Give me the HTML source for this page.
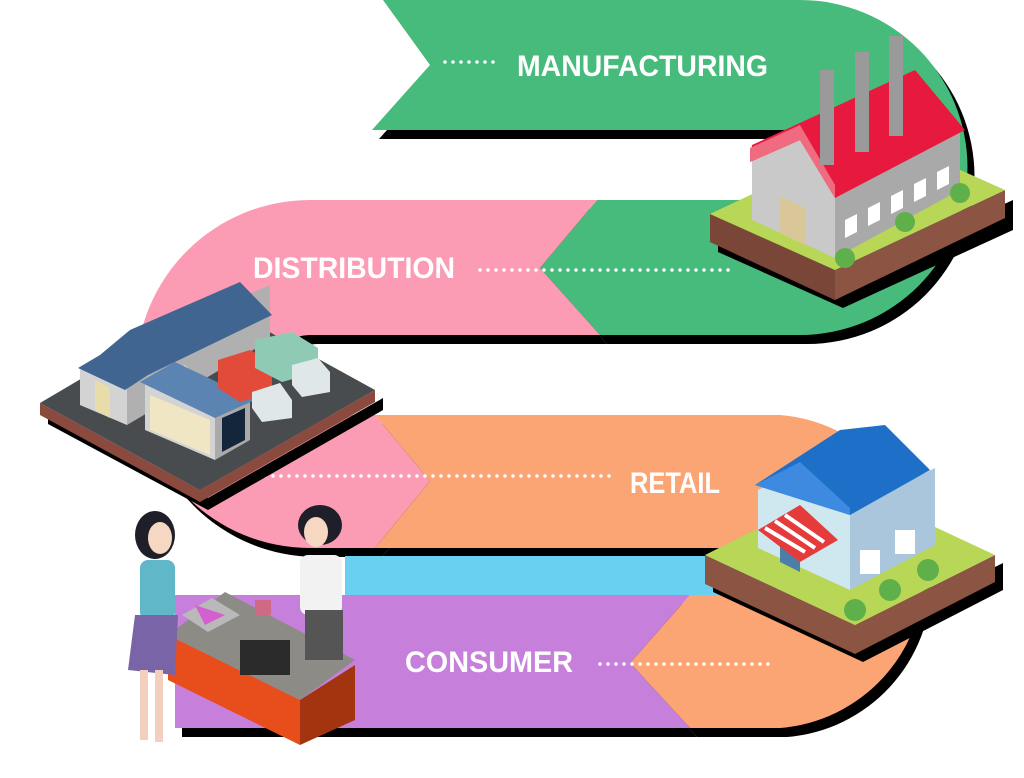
<!DOCTYPE html>
<html><head><meta charset="utf-8"><style>
html,body{margin:0;padding:0;background:#fff;}
svg{display:block;}
.t{font-family:"Liberation Sans",sans-serif;font-weight:bold;fill:#fff;font-size:30px;}
.d{stroke:#fff;stroke-width:3.5;stroke-linecap:round;stroke-dasharray:0 8;fill:none;}
</style></head><body>
<svg width="1024" height="778" viewBox="0 0 1024 778" xmlns="http://www.w3.org/2000/svg">
<defs>
<path id="g" d="M383,0 H800 A167,167 0 0 1 800,335 H600 L540,268 L597,200 H800 A35,35 0 0 0 800,130 H372 L430,65 Z"/>
<path id="p" d="M310,200 H597 L540,268 L600,335 H310 A40,40 0 0 0 310,415 H375 L430,481 L375,548 H310 A174,174 0 0 1 310,200 Z"/>
<path id="o" d="M375,415 H780 A157,157 0 0 1 780,728 H690 L630,663 L690,595 H780 A23,23 0 0 0 780,548 H375 L430,481 Z"/>
<path id="c" d="M175,595 H690 L630,663 L690,728 H175 Z"/>
</defs>
<!-- shadows -->
<g fill="#000" transform="translate(7,9)">
<use href="#g"/><use href="#p"/><use href="#o"/><use href="#c"/>
</g>
<use href="#g" fill="#47bb7b"/>
<use href="#p" fill="#fb9bb4"/>
<use href="#o" fill="#fba574"/>
<rect x="345" y="556" width="440" height="39" fill="#6ad0f1"/>
<use href="#c" fill="#c77fdc"/>

<!-- texts -->
<text class="t" x="517" y="76" textLength="251" lengthAdjust="spacingAndGlyphs">MANUFACTURING</text>
<path class="d" d="M445,62 H495"/>
<text class="t" x="253" y="278" textLength="202" lengthAdjust="spacingAndGlyphs">DISTRIBUTION</text>
<path class="d" d="M480,270 H735"/>
<text class="t" x="630" y="493" textLength="90" lengthAdjust="spacingAndGlyphs">RETAIL</text>
<path class="d" d="M265,476 H612"/>
<text class="t" x="405" y="672" textLength="168" lengthAdjust="spacingAndGlyphs">CONSUMER</text>
<path class="d" d="M600,664 H770"/>

<!-- factory -->
<g>
<polygon points="718,222 843,278 1013,200 1013,230 843,308 718,252" fill="#000"/>
<polygon points="710,214 835,270 1005,190 1005,218 835,300 710,242" fill="#8b5443"/>
<polygon points="710,214 835,270 835,300 710,242" fill="#7a4638"/>
<polygon points="710,214 880,134 1005,190 835,270" fill="#b8d756"/>
<polygon points="752,160 800,138 835,195 835,258 752,220" fill="#c9c9c9"/>
<polygon points="835,195 960,130 960,190 835,258" fill="#a9a9a9"/>
<polygon points="780,196 805,208 805,245 780,233" fill="#d9c79a"/>
<g fill="#fff"><polygon points="845,220 857,214 857,232 845,238"/><polygon points="868,208 880,202 880,220 868,226"/><polygon points="891,196 903,190 903,208 891,214"/><polygon points="914,184 926,178 926,196 914,202"/><polygon points="937,172 949,166 949,184 937,190"/></g>
<polygon points="752,145 915,70 965,130 835,198 800,140 750,162" fill="#e8193e"/>
<polygon points="750,148 800,125 835,185 835,198 800,140 750,162" fill="#f06a80"/>
<rect x="820" y="70" width="14" height="95" fill="#9a9a9a"/><rect x="855" y="52" width="14" height="100" fill="#9a9a9a"/><rect x="889" y="36" width="14" height="100" fill="#9a9a9a"/>
<g fill="#5fb04a"><circle cx="845" cy="258" r="10"/><circle cx="905" cy="222" r="10"/><circle cx="960" cy="193" r="10"/></g>
</g>

<!-- warehouse -->
<g>
<polygon points="48,412 208,498 383,398 383,410 208,510 48,424" fill="#000"/>
<polygon points="40,403 200,490 375,390 375,402 200,502 40,415" fill="#8b4a3e"/>
<polygon points="40,403 213,301 375,390 200,490" fill="#494c4f"/>
<polygon points="80,370 127,348 127,425 80,405" fill="#d3d3d3"/>
<polygon points="127,348 270,285 270,340 127,425" fill="#b0b0b0"/>
<polygon points="95,380 110,388 110,418 95,410" fill="#e8dca8"/>
<polygon points="78,368 100,355 130,330 240,282 272,315 148,375 125,390" fill="#3f6590"/>
<polygon points="145,385 185,365 215,395 215,460 145,430" fill="#d3d3d3"/>
<polygon points="150,395 210,420 210,455 150,430" fill="#f0e6c4"/>
<polygon points="215,395 250,380 250,440 215,460" fill="#aaa"/>
<polygon points="222,418 245,408 245,440 222,452" fill="#13263b"/>
<polygon points="140,382 175,362 255,400 215,418" fill="#5b84b3"/>
<polygon points="218,360 250,350 272,362 272,392 240,402 218,388" fill="#e24a3a"/>
<polygon points="255,340 292,332 318,348 318,372 282,382 255,368" fill="#8fcab4"/>
<polygon points="252,392 280,383 292,400 292,418 262,422 252,408" fill="#dfe7e8"/>
<polygon points="292,365 318,358 330,372 330,392 302,397 292,385" fill="#dfe7e8"/>
</g>

<!-- shop -->
<g>
<polygon points="713,563 863,633 1003,563 1003,590 863,662 713,592" fill="#000"/>
<polygon points="705,555 855,625 995,555 995,582 855,654 705,584" fill="#8b5443"/>
<polygon points="705,555 845,485 995,555 855,625" fill="#b8d756"/>
<polygon points="758,490 800,470 850,510 850,590 758,548" fill="#cfe7ee"/>
<polygon points="850,510 935,468 935,545 850,590" fill="#a9c6dd"/>
<polygon points="780,530 800,538 800,572 780,562" fill="#4b7fa8"/>
<polygon points="758,530 800,505 838,540 800,562" fill="#e53b3b"/>
<g stroke="#fff" stroke-width="4"><line x1="765" y1="528" x2="805" y2="552"/><line x1="775" y1="521" x2="815" y2="548"/><line x1="785" y1="515" x2="824" y2="542"/></g>
<rect x="860" y="550" width="20" height="24" fill="#fff"/><rect x="895" y="530" width="20" height="24" fill="#fff"/>
<polygon points="755,485 840,430 885,425 930,470 850,515" fill="#1e6fc8"/>
<polygon points="755,485 800,462 850,508 850,515" fill="#3d8ae0"/>
<g fill="#5fb04a"><circle cx="855" cy="610" r="11"/><circle cx="890" cy="590" r="11"/><circle cx="928" cy="570" r="11"/></g>
</g>

<!-- people & counter -->
<g>
<polygon points="168,635 300,700 300,745 168,680" fill="#e84d1c"/>
<polygon points="300,700 355,665 355,720 300,745" fill="#a33410"/>
<polygon points="168,635 225,592 355,660 300,700" fill="#8c8b86"/>
<polygon points="182,615 212,598 240,615 208,632" fill="#b9b9b9"/>
<polygon points="195,605 225,615 205,625" fill="#d35fd0"/>
<rect x="240" y="640" width="50" height="35" fill="#2b2b2b"/>
<ellipse cx="155" cy="535" rx="20" ry="24" fill="#1f1f2a"/>
<ellipse cx="160" cy="538" rx="12" ry="16" fill="#f6d7c2"/>
<rect x="140" y="560" width="35" height="60" rx="8" fill="#5fb7c8"/>
<polygon points="135,615 178,615 175,675 128,670" fill="#7a64a8"/>
<rect x="140" y="670" width="8" height="70" fill="#f3d0bd"/><rect x="155" y="670" width="8" height="72" fill="#f3d0bd"/>
<ellipse cx="320" cy="525" rx="22" ry="20" fill="#1f1f2a"/>
<ellipse cx="316" cy="532" rx="12" ry="15" fill="#f6d7c2"/>
<rect x="300" y="555" width="42" height="60" rx="8" fill="#f2f2f2"/>
<rect x="305" y="610" width="38" height="50" fill="#555"/>
<rect x="255" y="600" width="16" height="15" fill="#d06a84"/>
</g>
</svg>
</body></html>
